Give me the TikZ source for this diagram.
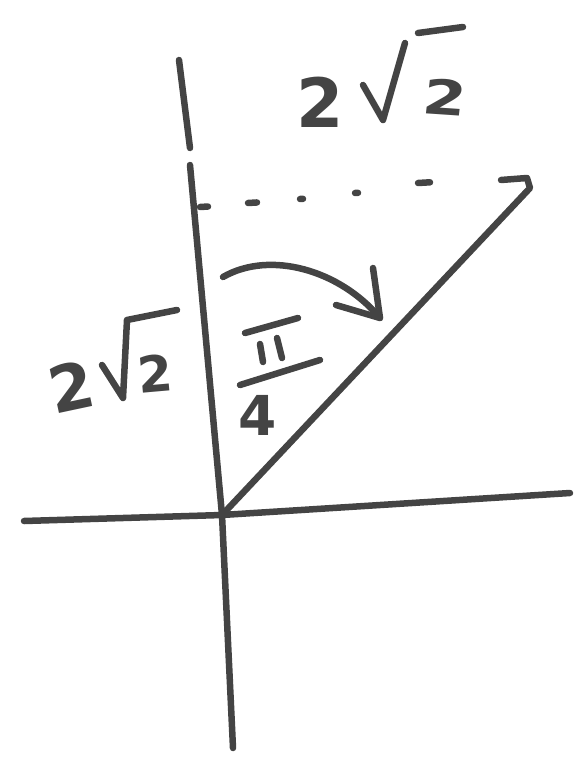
\documentclass[tikz,border=0pt]{standalone}
\usepackage{fontspec}
\setmainfont{DejaVu Sans}
\definecolor{ink}{HTML}{444444}
\tikzset{
  pen/.style={draw=ink, line width=6.5pt, line cap=round, line join=round},
  lbl/.style={text=ink, inner sep=0pt, font=\bfseries},
}
\newcommand{\fs}[1]{\fontsize{#1}{#1}\selectfont\bfseries}
\begin{document}
\begin{tikzpicture}[x=1pt,y=-1pt]
\useasboundingbox (0,0) rectangle (578,758);
% points
\coordinate (O) at (222,515);
\coordinate (vt) at (179,60);
\coordinate (vg1) at (190,148);
\coordinate (vg2) at (190,165);
\coordinate (vb) at (233,748);
\coordinate (hl) at (24,521);
\coordinate (hr) at (570,493);
\coordinate (dt) at (530,188);
% axes
\draw[pen] (vt) -- (vg1);
\draw[pen] (vg2) -- (O) -- (vb);
\draw[pen] (hl) -- (O) -- (hr);
% diagonal with hook
\draw[pen] (O) -- (dt) -- (527,178) -- (501,180);
% dotted line
\foreach \x/\y/\l in {200/207/8, 248/203/9, 300/199/3, 355/193/3, 418/183/12}
  \draw[pen] (\x,\y) -- ++(\l,-0.6*\l/10);
% arc with arrowhead
\coordinate (a0) at (223,277);
\coordinate (a1) at (380,318);
\draw[pen] (a0) .. controls (270,250) and (340,270) .. (a1);
\draw[pen] (373,268) -- (a1) -- (336,305);
% top label 2 sqrt 2
\node[lbl, font=\fs{68}] (top2) at (320,102) {2};
\draw[pen] (363,85) -- (383,120) -- (405,43);
\draw[pen] (418,33) -- (463,27);
\node[lbl, font=\fs{48}, xscale=1.3, rotate=-5] (topin) at (445,97) {2};
% left label 2 sqrt 2
\node[lbl, font=\fs{64}, rotate=12] (left2) at (71,387) {2};
\draw[pen] (102,365) -- (123,398) -- (127,320) -- (177,310);
\node[lbl, font=\fs{50}, rotate=5] (leftin) at (155,373) {2};
% pi over 4
\draw[pen] (245,333) -- (298,318);
\draw[pen] (260,344) -- (263,362);
\draw[pen] (277,338) -- (282,358);
\draw[pen] (240,385) -- (320,360);
\node[lbl, font=\fs{55}] (four) at (258,415) {4};
\end{tikzpicture}
\end{document}
